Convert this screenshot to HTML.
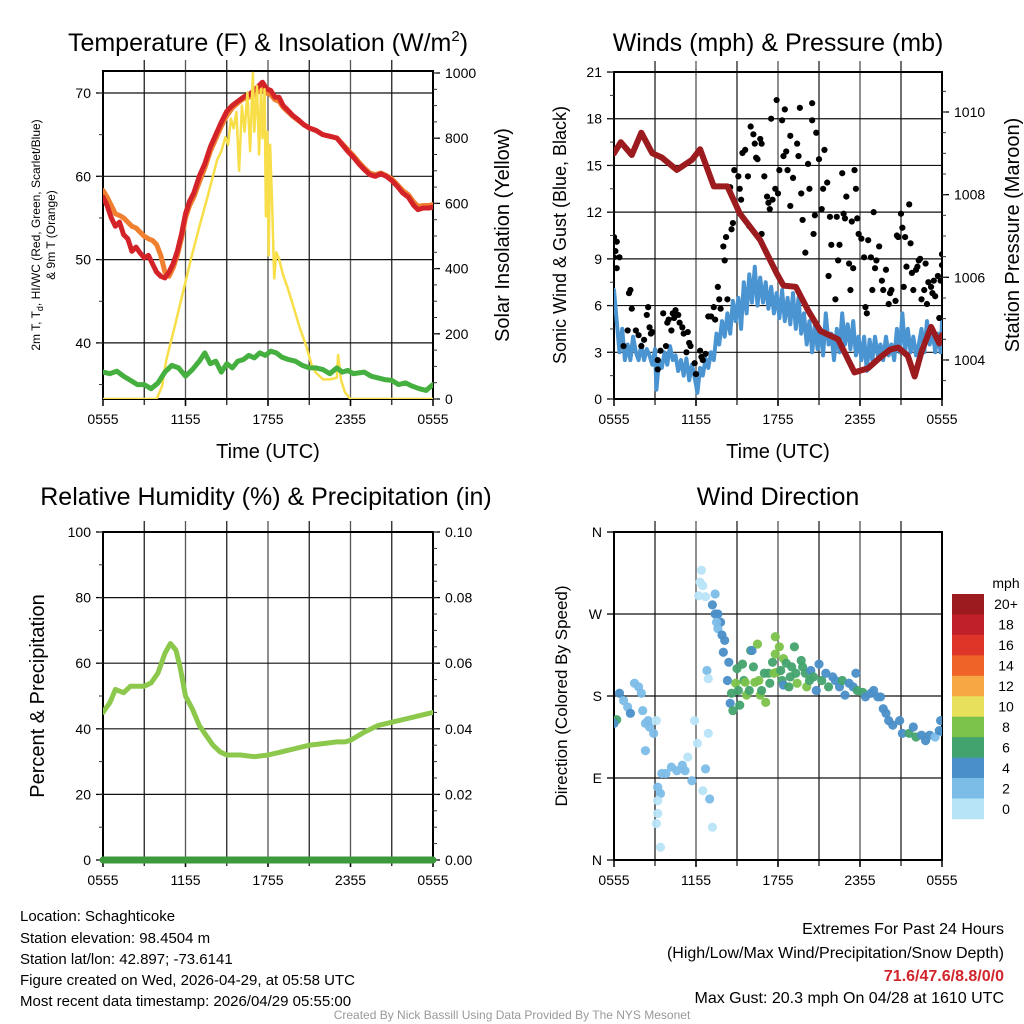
<!DOCTYPE html>
<html><head><meta charset="utf-8"><title>Mesonet Station Meteogram</title>
<style>
html,body{margin:0;padding:0;background:#fff;}
svg{display:block;font-family:"Liberation Sans",Arial,sans-serif;}
</style></head>
<body>
<svg id="chart" width="1024" height="1024" viewBox="0 0 1024 1024" xmlns="http://www.w3.org/2000/svg">
<rect x="0" y="0" width="1024" height="1024" fill="#fff"/>
<defs>
<clipPath id="c1"><rect x="103" y="71" width="330" height="328"/></clipPath>
<clipPath id="c2"><rect x="614" y="72" width="328" height="327"/></clipPath>
<clipPath id="c3"><rect x="103" y="532" width="330" height="328"/></clipPath>
<clipPath id="c4"><rect x="614" y="532" width="328" height="328"/></clipPath>
</defs>
<g id="layer"></g>
<!-- titles -->
<text x="268" y="51" font-size="25" text-anchor="middle">Temperature (F) &amp; Insolation (W/m<tspan font-size="15" dy="-10">2</tspan><tspan dy="10">)</tspan></text>
<text x="778" y="51" font-size="25" text-anchor="middle">Winds (mph) &amp; Pressure (mb)</text>
<text x="266" y="505" font-size="25" text-anchor="middle">Relative Humidity (%) &amp; Precipitation (in)</text>
<text x="778" y="505" font-size="25" text-anchor="middle">Wind Direction</text>
<!-- axis titles -->
<text x="268" y="458" font-size="20" text-anchor="middle">Time (UTC)</text>
<text x="778" y="458" font-size="20" text-anchor="middle">Time (UTC)</text>
<text transform="translate(40,235) rotate(-90)" font-size="12" text-anchor="middle">2m T, T<tspan font-size="9" dy="3">d</tspan><tspan dy="-3">, HI/WC (Red, Green, Scarlet/Blue)</tspan></text>
<text transform="translate(55,235) rotate(-90)" font-size="12" text-anchor="middle">&amp; 9m T (Orange)</text>
<text transform="translate(509,235) rotate(-90)" font-size="20" text-anchor="middle">Solar Insolation (Yellow)</text>
<text transform="translate(566,235) rotate(-90)" font-size="18" text-anchor="middle">Sonic Wind &amp; Gust (Blue, Black)</text>
<text transform="translate(1019,235) rotate(-90)" font-size="20" text-anchor="middle">Station Pressure (Maroon)</text>
<text transform="translate(44,696) rotate(-90)" font-size="20" text-anchor="middle">Percent &amp; Precipitation</text>
<text transform="translate(567,696) rotate(-90)" font-size="17" text-anchor="middle">Direction (Colored By Speed)</text>
<!-- bottom info -->
<g font-size="15">
<text x="20" y="921">Location: Schaghticoke</text>
<text x="20" y="943">Station elevation: 98.4504 m</text>
<text x="20" y="964">Station lat/lon: 42.897; -73.6141</text>
<text x="20" y="985">Figure created on Wed, 2026-04-29, at 05:58 UTC</text>
<text x="20" y="1006">Most recent data timestamp: 2026/04/29 05:55:00</text>
</g>
<g font-size="16" text-anchor="end">
<text x="1004" y="934">Extremes For Past 24 Hours</text>
<text x="1004" y="958">(High/Low/Max Wind/Precipitation/Snow Depth)</text>
<text x="1004" y="981" fill="#d0262c" font-weight="bold">71.6/47.6/8.8/0/0</text>
<text x="1004" y="1003">Max Gust: 20.3 mph On 04/28 at 1610 UTC</text>
</g>
<text x="512" y="1019" font-size="12" fill="#999" text-anchor="middle">Created By Nick Bassill Using Data Provided By The NYS Mesonet</text>
</svg>
<script>
// ---------- data (hours since 0555 UTC) ----------
const xTickLabels = ["0555","1155","1755","2355","0555"];
const tempT = [0,0.3,0.6,0.9,1.2,1.5,1.8,2.1,2.4,2.7,3.0,3.3,3.6,3.9,4.2,4.5,4.8,5.1,5.4,5.7,6.0,6.3,6.6,7.0,7.4,7.8,8.2,8.6,9.0,9.4,9.8,10.2,10.6,11.0,11.3,11.6,11.9,12.2,12.5,12.8,13.1,13.4,13.8,14.2,14.6,15.0,15.5,16.0,16.5,17.0,17.4,17.8,18.2,18.6,19.0,19.4,19.8,20.2,20.6,21.0,21.4,21.8,22.2,22.6,22.9,23.3,23.7,24];
const tempRed = [57.5,56.5,55,54,54.5,53,52.5,51,51.5,50.8,50.2,50.5,49.5,48.5,48,47.8,48.5,49.5,51,53,55.5,57,58,60,61.5,63.5,65,66.5,67.8,68.5,69,69.5,69.8,70.3,70.8,71.3,70.5,70.3,69.5,69.5,68.5,68,67.3,66.8,66.2,65.8,65.5,65,64.8,64.6,63.8,63,62.3,61.5,60.8,60.2,60,60.3,60,59.5,58.8,58,57.5,56.5,56,56.2,56.2,56.3];
const tempOrange = [58.3,57.5,56.5,55.5,55.3,55,54.5,54,53.8,53.3,52.8,52.5,52.3,51.8,50.5,48.5,48,49,50.5,52.5,55,56.5,57.5,59.3,61,63,64.5,66,67.3,68.2,68.8,69.3,69.5,69.8,70.2,70.5,70,69.8,69.2,69,68.3,67.8,67.2,66.7,66.2,65.8,65.5,65,64.8,64.6,63.9,63.2,62.5,61.7,61,60.4,60.2,60.4,60.1,59.7,59,58.3,57.8,56.9,56.4,56.5,56.5,56.6];
const dewT = [0,0.5,1,1.5,2,2.5,3,3.5,4,4.5,5,5.5,6,6.5,7,7.4,7.8,8.2,8.6,9,9.4,9.8,10.2,10.6,11,11.4,11.8,12.2,12.6,13,13.5,14,14.5,15,15.5,16,16.5,17,17.4,17.8,18.2,18.6,19,19.5,20,20.5,21,21.5,22,22.5,23,23.5,24];
const dewV = [36.5,36.3,36.6,36,35.5,35,35,34.5,35.2,36.5,37.3,37,36,36.8,37.8,38.8,37.5,37.8,36.5,37.5,37,37.8,38,38.5,38.2,38.8,38.5,39,38.8,38.3,38,37.8,37.3,37,37,36.8,36.3,37,36.5,36.7,36.3,36.4,36.5,36,35.8,35.6,35.5,35,35.2,34.8,34.5,34.3,35];
const solarT = [0,3.9,4.3,4.6,5.2,5.8,6.4,7,7.6,8.3,8.6,8.9,9.1,9.3,9.5,9.7,9.9,10.1,10.3,10.5,10.7,10.9,11.0,11.2,11.35,11.5,11.6,11.75,11.85,11.95,12.05,12.15,12.3,12.45,12.6,12.8,13.1,13.4,13.8,14.3,14.8,15.2,15.5,16,16.5,17,17.1,17.3,17.6,18,24];
const solarV = [0,0,40,120,220,325,430,528,620,733,760,803,780,860,830,880,700,900,820,940,760,1000,820,960,750,950,800,950,560,820,440,780,600,370,450,430,380,344,290,220,160,100,80,60,60,65,135,60,20,0,0];
const windT = [0,0.2,0.4,0.6,0.8,1,1.2,1.4,1.6,1.8,2,2.2,2.4,2.6,2.8,3,3.1,3.3,3.5,3.7,3.9,4.1,4.3,4.5,4.7,4.9,5.1,5.3,5.5,5.7,5.9,6.1,6.3,6.5,6.7,6.9,7.1,7.3,7.5,7.7,7.9,8.1,8.3,8.5,8.7,8.9,9.1,9.3,9.5,9.7,9.9,10.1,10.3,10.5,10.7,10.9,11.1,11.3,11.5,11.7,11.9,12.1,12.3,12.5,12.7,12.9,13.1,13.3,13.5,13.7,13.9,14.1,14.3,14.5,14.7,14.9,15.1,15.3,15.5,15.7,15.9,16.1,16.3,16.5,16.7,16.9,17.1,17.3,17.5,17.7,17.9,18.1,18.3,18.5,18.7,18.9,19.1,19.3,19.5,19.7,19.9,20.1,20.3,20.5,20.7,20.9,21.1,21.3,21.5,21.7,21.9,22.1,22.3,22.5,22.7,22.9,23.1,23.3,23.5,23.7,23.9,24];
const windV = [7,5,3,4.5,2.5,3.5,2.5,4,3,2.5,3.5,2.5,3.2,2.8,2.2,3.2,0.6,2.5,2,3,2.2,3.4,2.5,2.8,1.8,2.5,1.5,2.6,1.2,2.2,1.4,0.4,2,1.5,2.6,2,3,2.5,4.2,3.5,5,4,5.5,4.2,6.3,5,6.5,4.5,7.5,5.5,8,6.2,8.5,6,7.8,6.2,7.5,5.8,7.2,5.5,6.8,5.2,7,5,6.5,4.8,6.8,4.5,6.5,4.2,5.5,3.5,5,3,4.8,3.2,4.5,2.8,5.5,3.5,4.2,2.5,4.5,3,5.5,3.5,4.8,3.2,5,2.8,4,2.5,4,1.8,3.8,2.5,4,2.8,3.5,2.5,4,2.8,3.5,2.5,4.5,3,5.5,3,4.5,3,4,2.8,3.5,4.5,3,5,3.5,4.5,3,4.2,3,5];
const gustT = [0,0,0.1,0.2,0.4,0.2,0.7,1.0,1.3,1.1,1.2,1.6,1.8,2.0,2.2,2.5,2.4,2.6,2.7,2.8,3.2,3.2,3.4,3.6,3.8,3.9,4.0,4.2,4.3,4.4,4.5,4.7,4.8,5.0,5.1,5.3,5.4,5.5,5.6,5.9,6.0,6.3,6.4,6.5,6.7,6.9,7.1,7.3,7.4,7.6,7.7,7.8,8.0,8.1,8.2,8.3,8.5,8.6,8.7,8.8,9.1,9.2,9.3,9.4,9.6,9.8,9.9,10.0,10.2,10.3,10.4,10.5,10.7,10.8,10.8,11.0,11.2,11.3,11.4,11.5,11.6,11.8,11.9,12.0,12.1,12.3,12.4,12.5,12.6,12.7,12.9,12.9,13.1,13.4,13.5,13.6,13.7,13.8,14.0,14.2,14.3,14.5,14.5,14.6,14.7,14.8,15.0,15.2,15.3,15.4,15.6,15.7,15.8,15.9,16.2,16.3,16.4,16.5,16.7,16.8,16.9,17.0,17.2,17.3,17.4,17.5,17.6,17.7,17.8,17.9,18.1,18.3,18.4,18.5,18.6,18.8,18.9,19.0,19.1,19.2,19.4,19.6,19.7,19.9,20.1,20.2,20.3,20.6,20.7,20.8,21.0,21.1,21.2,21.3,21.4,21.6,21.7,21.8,21.9,22.1,22.2,22.3,22.4,22.5,22.7,22.8,22.9,23.0,23.2,23.3,23.4,23.5,23.7,23.8,23.9,24,24];
const gustV = [10.4,9.1,9.5,10.1,9.1,8.4,3.4,4.4,5.8,6.8,7.0,4.4,4.1,3.4,3.8,5.9,5.4,4.6,4.2,4.3,2.5,1.9,3.1,5.5,3.4,4.9,5.1,4.4,5.5,5.2,5.7,5.4,4.9,4.6,4.2,3.0,4.3,3.6,3.4,2.3,1.6,3.1,2.7,2.5,2.9,5.3,5.3,5.9,5.1,7.2,6.4,5.8,9.8,8.9,10.4,6.4,13.6,10.9,11.3,14.7,14.3,13.5,12.8,15.8,16.0,14.3,11.1,17.5,17.0,16.4,15.5,15.4,16.7,16.4,10.6,14.3,13.0,12.6,12.2,18.0,12.8,13.5,19.2,13.2,14.7,17.9,15.6,18.6,15.9,14.7,16.9,12.4,14.2,16.4,15.6,18.7,13.2,11.5,9.4,15.1,13.5,19.0,17.9,10.6,11.8,17.1,15.4,12.2,13.5,16.0,13.9,7.9,11.7,9.9,6.4,11.7,8.9,9.9,14.5,11.9,11.6,13.0,8.7,7.0,11.4,8.4,14.7,13.5,11.6,10.6,10.3,9.1,5.9,5.5,10.2,9.1,7.0,12.0,8.4,8.9,9.8,7.6,7.0,8.3,6.1,6.8,7.0,6.3,10.5,10.4,11.9,11.0,7.2,10.4,8.5,12.5,10.0,8.1,7.0,8.3,8.5,8.9,9.0,6.4,7.0,8.7,6.1,7.5,7.2,6.8,7.6,6.6,7.9,5.2,7.6,8.6,9.3];
const presT = [0,0.5,1.3,2,2.8,3.5,4.6,5.7,6.3,7.3,8.3,9.2,10.7,11.9,12.4,13.3,14.2,15.1,16.4,17.6,18.6,19.5,20.2,20.8,21.5,22,22.5,23.2,23.8,24];
const presV = [1009.0,1009.27,1008.96,1009.5,1009.0,1008.9,1008.6,1008.84,1009.1,1008.2,1008.2,1007.55,1006.9,1006.1,1005.8,1005.77,1005.2,1004.7,1004.5,1003.7,1003.8,1004.07,1004.25,1004.3,1004.1,1003.6,1004.2,1004.8,1004.4,1004.6];
const rhT = [0,0.5,0.9,1.5,2,2.5,3,3.5,4,4.5,4.9,5.3,5.6,6,6.5,7,7.5,8,8.5,9,10,11,12,13,14,15,16,17,17.6,18,19,20,21,22,23,24];
const rhV = [45,48,52,51,53,53,53,54,57,63,66,64,59,50,46,41,38,35,33,32,32,31.5,32,33,34,35,35.5,36,36,36.5,39,41,42,43,44,45];
const precipT = [0,24];
const precipV = [0,0];
const dirT = [0,0.2,0,0.4,0.7,1.0,1.2,1.5,1.8,2.0,2.1,2.3,2.5,2.6,2.9,2.3,3.1,3.5,3.2,3.4,3.2,3.2,3.1,3.4,3.8,4.2,4.6,5.0,5.2,5.4,5.7,6.1,5.9,6.5,6.7,7.0,7.2,6.9,6.8,6.9,6.4,6.3,6.5,6.2,6.7,7.4,7.2,7.4,7.6,7.8,7.5,7.6,7.9,8.1,8.0,8.4,8.3,8.5,8.6,8.7,9.0,8.9,9.1,9.2,9.4,9.5,9.6,9.7,9.9,10.0,10.1,10.2,10.3,10.5,10.6,10.7,10.8,11.0,11.1,11.3,11.4,11.6,11.7,11.8,11.8,11.9,12.1,12.2,12.3,12.4,12.4,12.6,12.8,12.9,13.0,13.2,13.3,13.4,13.7,13.8,14.0,14.1,14.3,14.4,14.6,14.8,15.0,15.2,15.5,15.7,16.0,16.2,16.5,16.7,16.9,17.2,17.5,17.7,17.8,18.2,18.4,18.8,19.0,19.3,19.5,19.7,19.9,20.1,20.4,20.9,21.1,21.6,21.9,22.1,22.5,22.8,23.1,23.5,23.8,23.9,24];
const dirDeg = [153,154,150,183,175,168,161,194,190,183,164,150,153,146,139,120,153,95,80,73,65,51,40,14,95,102,98,104,98,113,87,128,153,76,100,67,36,139,208,199,318,305,301,290,289,292,280,270,270,261,261,254,247,241,228,217,197,172,183,164,210,194,186,170,215,197,195,181,186,230,230,212,195,237,197,181,186,205,173,205,194,217,205,226,245,206,234,208,197,221,192,216,190,201,212,234,205,194,219,212,205,190,197,208,201,186,215,197,205,190,201,197,190,197,181,194,190,205,186,184,179,183,186,179,179,166,161,153,148,153,139,139,146,135,137,131,137,135,142,153,141];
const dirSpeed = [6,7,4,4,2,2,4,2,2,2,2,2,2,2,2,2,0.5,2,2,2,0.5,0.5,0.5,0.5,2,2,2,2,2,0.5,2,0.5,0.5,0.5,2,2,0.5,0.5,2,0.5,0.5,0.5,0.5,0.5,0.5,2,4,4,4,4,2,2,4,4,4,4,4,4,6,6,6,8,6,6,6,6,8,8,6,6,4,6,8,8,8,8,6,6,8,6,6,6,8,8,8,8,8,6,6,8,4,6,6,6,6,6,6,8,6,6,6,8,6,4,6,4,4,6,4,6,4,4,4,6,4,4,4,4,6,6,4,4,4,4,4,4,4,4,4,4,4,6,4,6,4,4,4,2,4,4,4,4,4];
const cbLabels = ["20+","18","16","14","12","10","8","6","4","2","0"];
const cbColors = ["#9b1b1f","#c0202a","#dd3527","#ef6329","#f7a845","#e7e05a","#7bc24b","#43a36e","#4a8fc8","#7cbde8","#b8e4f8"];
const tempTicks = [70,60,50,40];
const solarTicks = [0,200,400,600,800,1000];
const windTicks = [0,3,6,9,12,15,18,21];
const presTicks = [1004,1006,1008,1010];
const rhTicks = [0,20,40,60,80,100];
const precipTickLabels = ["0.00","0.02","0.04","0.06","0.08","0.10"];
const dirTickLabels = ["N","E","S","W","N"];

// ---------- helpers ----------
const NS = "http://www.w3.org/2000/svg";
const root = document.getElementById("layer");
function mk(tag, attrs, parent) {
  const e = document.createElementNS(NS, tag);
  for (const k in attrs) e.setAttribute(k, attrs[k]);
  (parent || root).appendChild(e);
  return e;
}
function txt(str, attrs, parent) { const e = mk("text", attrs, parent); e.textContent = str; return e; }

const panels = {
  p1: {x0:103, x1:433, y0:71, y1:399},
  p2: {x0:614, x1:942, y0:72, y1:399},
  p3: {x0:103, x1:433, y0:532, y1:860},
  p4: {x0:614, x1:942, y0:532, y1:860}
};
function xs(p, t) { return p.x0 + t / 24 * (p.x1 - p.x0); }
const yTemp = v => 93 + (70 - v) * 8.33;
const ySolar = v => 399 - v * 0.326;
const yWind = v => 399 - v * 15.57;
const yPres = v => 112 + (1010 - v) * 41.33;
const yRH = v => 860 - v * 3.28;
const yPrecip = v => 860 - v * 3280;
const yDir = v => 860 - v * 0.9111;

function linePath(p, T, V, yf) {
  let d = "";
  for (let i = 0; i < T.length; i++) d += (i ? "L" : "M") + xs(p, T[i]).toFixed(1) + "," + yf(V[i]).toFixed(1);
  return d;
}

function frame(p, name, hLines) {
  const g = mk("g", {});
  
  
  for (let h = 3; h < 24; h += 3) {
    const x = xs(p, h);
    const l = mk("line", {x1:x, x2:x, y1:p.y0 - 11, y2:p.y1 + 6, stroke: (h % 6 === 0) ? "#555" : "#222", "stroke-width":1.3}, g);
    
    
  }
  hLines.forEach(y => {
    const l = mk("line", {x1:p.x0, x2:p.x1, y1:y, y2:y, stroke:"#111", "stroke-width":1.2}, g);
    
    
  });
  const b = mk("rect", {x:p.x0, y:p.y0, width:p.x1 - p.x0, height:p.y1 - p.y0, fill:"none", stroke:"#000", "stroke-width":2});
  
  
  const xl = mk("g", {"font-size":14, "text-anchor":"middle"});
  
  
  xTickLabels.forEach((s, i) => {
    const x = xs(p, i * 6);
    mk("line", {x1:x, x2:x, y1:p.y1, y2:p.y1 + 7, stroke:"#000", "stroke-width":1.5}, xl);
    txt(s, {x:x, y:p.y1 + 25}, xl);
  });
}
function yAxis(name, x, vals, labels, yf, anchor, tickDir) {
  const g = mk("g", {"font-size":14, "text-anchor":anchor});
  
  
  vals.forEach((v, i) => {
    const y = yf(v);
    mk("line", {x1:x, x2:x + tickDir * 7, y1:y, y2:y, stroke:"#000", "stroke-width":1.3}, g);
    txt(labels[i], {x: x + tickDir * 12, y: y + 5}, g);
  });
  return g;
}
function minorTicks(x, from, to, step, yf, dir) {
  const g = mk("g", {});
  
  
  for (let v = from; v <= to + 1e-9; v += step) {
    const y = yf(v);
    mk("line", {x1:x, x2:x + dir * 4, y1:y, y2:y, stroke:"#333", "stroke-width":1}, g);
  }
}

// ---------- Panel 1: temperature & insolation ----------
const p1 = panels.p1;
frame(p1, "temperature-panel", tempTicks.map(yTemp));
yAxis("temperature-y-ticks", p1.x0, tempTicks, tempTicks.map(String), yTemp, "end", -1);
minorTicks(p1.x0, 35, 70, 5, yTemp, -1);
yAxis("insolation-y-ticks", p1.x1, solarTicks, solarTicks.map(String), ySolar, "start", 1);
minorTicks(p1.x1, 0, 1000, 50, ySolar, 1);
const g1 = mk("g", {"clip-path":"url(#c1)", fill:"none", "stroke-linejoin":"round", "stroke-linecap":"round"});
const sOr = mk("path", {d:linePath(p1, tempT, tempOrange, yTemp), stroke:"#f08030", "stroke-width":5}, g1);


const sRed = mk("path", {d:linePath(p1, tempT, tempRed, yTemp), stroke:"#d42328", "stroke-width":5}, g1);


const sSol = mk("path", {d:linePath(p1, solarT, solarV, ySolar), stroke:"#f8de48", "stroke-width":2.5}, g1);


const sDew = mk("path", {d:linePath(p1, dewT, dewV, yTemp), stroke:"#45b040", "stroke-width":5}, g1);



// ---------- Panel 2: winds & pressure ----------
const p2 = panels.p2;
frame(p2, "winds-panel", [3,6,9,12,15,18].map(yWind));
yAxis("wind-speed-y-ticks", p2.x0, windTicks, windTicks.map(String), yWind, "end", -1);
minorTicks(p2.x0, 0, 21, 1.5, yWind, -1);
yAxis("pressure-y-ticks", p2.x1, presTicks, presTicks.map(String), yPres, "start", 1);
minorTicks(p2.x1, 1003.5, 1010.5, 0.5, yPres, 1);
const g2 = mk("g", {"clip-path":"url(#c2)", fill:"none", "stroke-linejoin":"round", "stroke-linecap":"round"});
const sWind = mk("path", {d:linePath(p2, windT, windV, yWind), stroke:"#4a94d2", "stroke-width":4}, g2);


const gGust = mk("g", {fill:"#000"}, g2);


for (let i = 0; i < gustT.length; i++) {
  const c = mk("circle", {cx:xs(p2, gustT[i]), cy:yWind(gustV[i]), r:3.1}, gGust);
  
  
}
const sPres = mk("path", {d:linePath(p2, presT, presV, yPres), stroke:"#9b1b1f", "stroke-width":6}, g2);



// ---------- Panel 3: RH & precip ----------
const p3 = panels.p3;
frame(p3, "humidity-panel", [20,40,60,80].map(yRH));
yAxis("humidity-y-ticks", p3.x0, rhTicks, rhTicks.map(String), yRH, "end", -1);
minorTicks(p3.x0, 0, 100, 10, yRH, -1);
yAxis("precip-y-ticks", p3.x1, rhTicks, precipTickLabels, yRH, "start", 1);
minorTicks(p3.x1, 0, 100, 5, yRH, 1);
const g3 = mk("g", {fill:"none", "stroke-linejoin":"round", "stroke-linecap":"round"});
const sRH = mk("path", {d:linePath(p3, rhT, rhV, yRH), stroke:"#8cc84b", "stroke-width":5, "clip-path":"url(#c3)"}, g3);


const sPr = mk("path", {d:linePath(p3, precipT, precipV, yPrecip), stroke:"#3c9a3c", "stroke-width":7}, g3);



// ---------- Panel 4: wind direction ----------
const p4 = panels.p4;
frame(p4, "wind-direction-panel", [90,180,270].map(yDir));
yAxis("direction-y-ticks", p4.x0, [0,90,180,270,360], dirTickLabels, yDir, "end", -1);
const g4 = mk("g", {"clip-path":"url(#c4)"});


function speedColor(s) {
  let idx = Math.min(10, Math.floor(s / 2));
  return cbColors[10 - idx];
}
for (let i = 0; i < dirT.length; i++) {
  const c = mk("circle", {cx:xs(p4, dirT[i]), cy:yDir(dirDeg[i]), r:4.6, fill:speedColor(dirSpeed[i]), "fill-opacity":0.95}, g4);
  
  
}

// ---------- colorbar ----------
const cb = mk("g", {"font-size":14});


txt("mph", {x:1006, y:588, "text-anchor":"middle"}, cb);
const boxH = 225 / cbColors.length;
for (let i = 0; i < cbColors.length; i++) {
  const r = mk("rect", {x:952, y:594 + i * boxH, width:32, height:boxH + 0.3, fill:cbColors[i]}, cb);
  
  
  txt(cbLabels[i], {x:1006, y:594 + i * boxH + boxH / 2 + 5, "text-anchor":"middle"}, cb);
}
</script>
</body></html>
